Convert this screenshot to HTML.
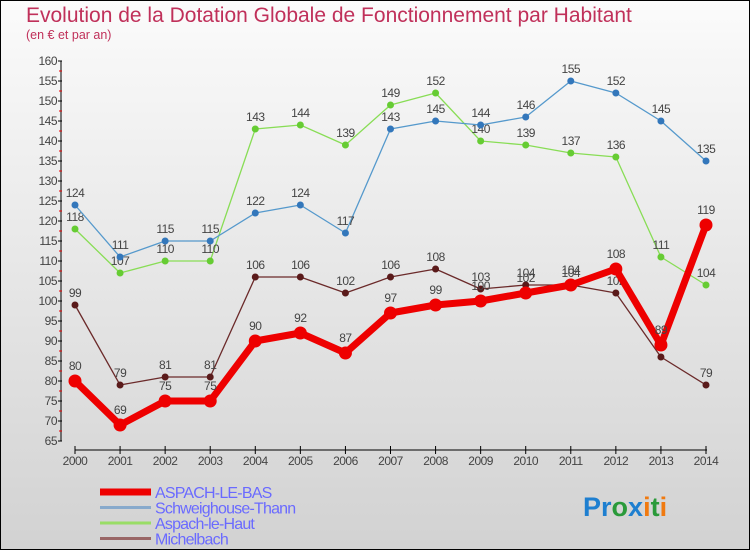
<!DOCTYPE html>
<html><head><meta charset="utf-8"><style>
body{margin:0;}
svg{display:block;font-family:"Liberation Sans",sans-serif;}
</style></head><body>
<svg id="c" width="750" height="550" xmlns="http://www.w3.org/2000/svg">
<defs><linearGradient id="bg" x1="0" y1="0" x2="0" y2="1"><stop offset="0" stop-color="#fbfbfb"/><stop offset="1" stop-color="#d2d2d2"/></linearGradient></defs>
<rect x="0.5" y="0.5" width="749" height="549" fill="url(#bg)" stroke="#000"/>
<text x="26" y="22" font-size="21" fill="#c0305a">Evolution de la Dotation Globale de Fonctionnement par Habitant</text>
<text x="26" y="39" font-size="12.5" fill="#c0305a">(en € et par an)</text>
<g id="axes"></g>
<g id="series"></g>
<g id="legend"></g>
<text x="583" y="516" font-size="27" font-weight="bold"><tspan fill="#1e7fd0">Pr</tspan><tspan fill="#2a9a3a">o</tspan><tspan fill="#1e7fd0">x</tspan><tspan fill="#f07a10">i</tspan><tspan fill="#2a9a3a">t</tspan><tspan fill="#f07a10">i</tspan></text>
</svg>
<script>
const years=[2000,2001,2002,2003,2004,2005,2006,2007,2008,2009,2010,2011,2012,2013,2014];
const aspachBas=[80,69,75,75,90,92,87,97,99,100,102,104,108,89,119];
const schweig=[124,111,115,115,122,124,117,143,145,144,146,155,152,145,135];
const aspachHaut=[118,107,110,110,143,144,139,149,152,140,139,137,136,111,104];
const michel=[99,79,81,81,106,106,102,106,108,103,104,104,102,86,79];
const yTicks=[65,70,75,80,85,90,95,100,105,110,115,120,125,130,135,140,145,150,155,160];
const seriesNames=["ASPACH-LE-BAS","Schweighouse-Thann","Aspach-le-Haut","Michelbach"];
const NS="http://www.w3.org/2000/svg";
const X=i=>75+i*(631/14);
const Y=v=>381-(v-80)*4;
function mk(t,a,p){const e=document.createElementNS(NS,t);for(const k in a)e.setAttribute(k,a[k]);p.appendChild(e);return e;}
const ax=document.getElementById('axes');
let l=mk('line',{x1:61,y1:Y(160),x2:61,y2:Y(65),stroke:'#000'},ax);


l=mk('line',{x1:75,y1:450,x2:707,y2:450,stroke:'#000'},ax);


yTicks.forEach(v=>{
 mk('line',{x1:58,y1:Y(v),x2:62,y2:Y(v),stroke:'#000'},ax);
 if(v<160) mk('line',{x1:59,y1:Y(v+2.5),x2:62,y2:Y(v+2.5),stroke:'#e00'},ax);
 const t=mk('text',{x:57,y:Y(v)+4,'font-size':12,fill:'#444','text-anchor':'end','letter-spacing':'-0.5'},ax);t.textContent=v;
 
 
});
years.forEach((y,i)=>{
 mk('line',{x1:X(i),y1:446,x2:X(i),y2:454,stroke:'#000'},ax);
 const t=mk('text',{x:X(i),y:465,'font-size':12,fill:'#444','text-anchor':'middle','letter-spacing':'-0.5'},ax);t.textContent=y;
 
 
});
const sg=document.getElementById('series');
function draw(data,color,dot,w,r,name,labOff){
 const g=mk('g',{},sg);
 
 
 mk('polyline',{points:data.map((v,i)=>X(i)+','+Y(v)).join(' '),fill:'none',stroke:color,'stroke-width':w,'stroke-linejoin':'round'},g);
 data.forEach((v,i)=>{
  const c=mk('circle',{cx:X(i),cy:Y(v),r:r,fill:dot},g);
  
  
  const t=mk('text',{x:X(i),y:Y(v)+labOff,'font-size':12,fill:'#444','text-anchor':'middle','letter-spacing':'-0.5'},g);t.textContent=v;
  
  
 });
}
draw(michel,'#6b2a2a','#5a1a1a',1.3,3.5,'michelbach-series',-8);
draw(aspachHaut,'#88dd55','#66cc33',1.3,3.5,'aspach-le-haut-series',-8);
draw(schweig,'#5599cc','#3377bb',1.3,3.5,'schweighouse-thann-series',-8);
draw(aspachBas,'#ee0000','#ee0000',7,6.5,'aspach-le-bas-series',-11);
const lg=document.getElementById('legend');
const lc=['#ee0000','#88aacc','#99dd66','#996666'],lw=[7,3,3,3];
seriesNames.forEach((n,i)=>{
 const y=492+i*15.5;
 const g=mk('g',{},lg);
 
 
 mk('line',{x1:100,y1:y,x2:151,y2:y,stroke:lc[i],'stroke-width':lw[i]},g);
 const t=mk('text',{x:155,y:y+6,'font-size':16,fill:'#6a6aff','letter-spacing':'-0.8'},g);t.textContent=n;
});
</script>
</body></html>
